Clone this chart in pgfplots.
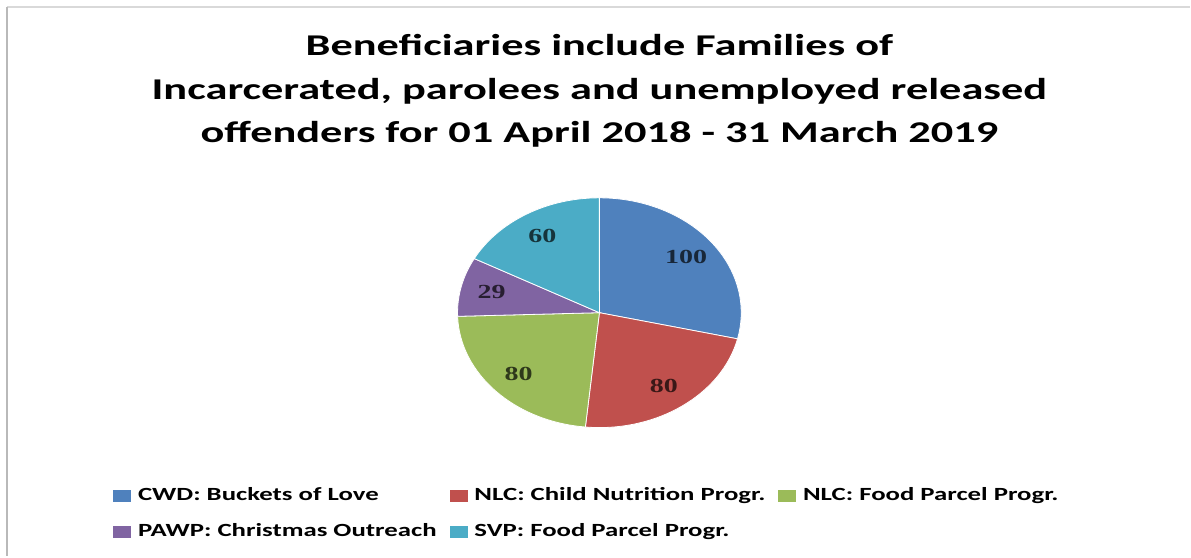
\documentclass[border=0pt]{standalone}
\usepackage{pgfplots}
\usepackage{pgfplotstable}
\usepackage{fontspec}
\pgfplotsset{compat=1.18}
\setmainfont{Carlito}
\newfontfamily\titlefont{Carlito Bold}[FakeStretch=1.47]
\newfontfamily\legfont{Carlito Bold}[FakeStretch=1.44]
\newfontfamily\labelfont{Liberation Serif Bold}[FakeStretch=1.4]
\newcommand\lblfont{\labelfont\fontsize{10}{12}\selectfont}

\definecolor{c0}{HTML}{4F81BD}
\definecolor{c1}{HTML}{C0504D}
\definecolor{c2}{HTML}{9BBB59}
\definecolor{c3}{HTML}{8064A2}
\definecolor{c4}{HTML}{4BACC6}
\colorlet{l0}{c0!30!black}
\colorlet{l1}{c1!30!black}
\colorlet{l2}{c2!30!black}
\colorlet{l3}{c3!30!black}
\colorlet{l4}{c4!30!black}

% beneficiaries per programme, 1 Apr 2018 - 31 Mar 2019
\pgfplotstableread{
value
100
80
80
29
60
}\piedata

% total, then one wedge and one label per row (clockwise from 12 o'clock)
\xdef\piesum{0}
\pgfplotstableforeachcolumnelement{value}\of\piedata\as\v{%
  \pgfmathsetmacro\tmp{\piesum+\v}\xdef\piesum{\tmp}}
\xdef\acc{90}
\gdef\piecmds{}
\pgfplotstableforeachcolumnelement{value}\of\piedata\as\v{%
  \pgfmathsetmacro\endA{\acc-\v/\piesum*360}%
  \pgfmathsetmacro\midA{(\acc+\endA)/2}%
  \xdef\piecmds{\unexpanded\expandafter{\piecmds}%
    \noexpand\fill[c\pgfplotstablerow, draw=white, line width=0.4pt]
      (axis cs:600,313) -- ++(\acc:71pt and 57.5pt)
      arc[start angle=\acc, end angle=\endA, x radius=71pt, y radius=57.5pt] -- cycle;
    \noexpand\path (axis cs:600,313) ++(\midA:55.4pt and 44.9pt)
      node[font=\noexpand\lblfont, text=l\pgfplotstablerow] {\v};}%
  \xdef\acc{\endA}%
}

% legend key: wide square plus a little space before the text
\newcommand\sq[1]{\addlegendimage{legend image code/.code={%
  \fill[#1] (0pt,-2.75pt) rectangle (8.5pt,2.75pt); \path (10.5pt,0pt);}}}

\begin{document}
\begin{tikzpicture}
\begin{axis}[
  scale only axis, width=595.5pt, height=278.5pt,
  xmin=0, xmax=1191, ymin=0, ymax=557, y dir=reverse,
  hide axis, clip=false,
  legend columns=3,
  legend cell align=left,
  legend style={at={(axis cs:107,480)}, anchor=north west, draw=none, fill=none,
    font=\legfont\fontsize{9.3}{11}\selectfont, row sep=6pt,
    nodes={inner xsep=1.5pt},
    /tikz/every even column/.append style={column sep=5pt}},
]
\path (axis cs:0,0) rectangle (axis cs:1191,557);
\draw[gray!30, line width=1.2pt] (axis cs:1191,7) -- (axis cs:7,7);
\draw[gray!55, line width=1pt] (axis cs:7,7) -- (axis cs:7,557);

\node[font=\titlefont\fontsize{15.1}{21.8}\selectfont, align=center] at (axis cs:600,91)
  {Beneficiaries include Families of\\
   Incarcerated, parolees and unemployed released\\
   offenders for 01 April 2018 - 31 March 2019};

\piecmds

\sq{c0}\addlegendentry{CWD: Buckets of Love}
\sq{c1}\addlegendentry{NLC: Child Nutrition Progr.}
\sq{c2}\addlegendentry{NLC: Food Parcel Progr.}
\sq{c3}\addlegendentry{PAWP: Christmas Outreach}
\sq{c4}\addlegendentry{SVP: Food Parcel Progr.}
\end{axis}
\end{tikzpicture}
\end{document}
